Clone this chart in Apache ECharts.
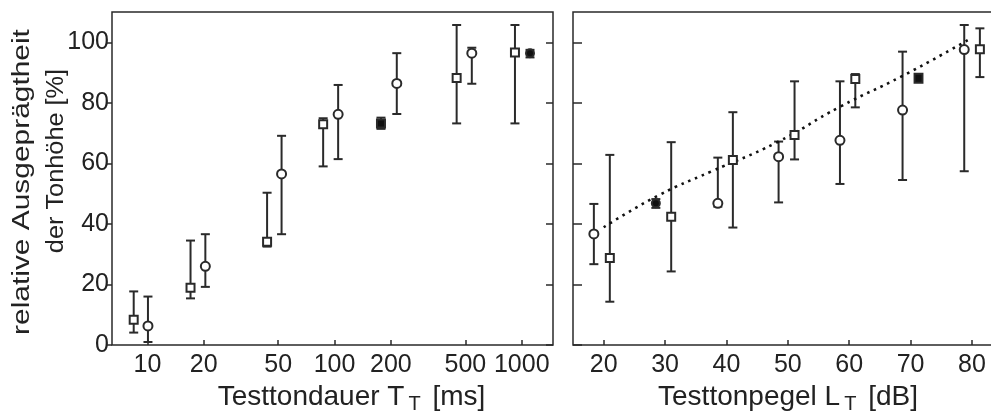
<!DOCTYPE html>
<html>
<head>
<meta charset="utf-8">
<script src="https://cdn.jsdelivr.net/npm/echarts@6/dist/echarts.min.js"></script>
<style>
  html, body { margin: 0; padding: 0; background: #fff; }
  #chart { width: 991px; height: 417px; }
</style>
</head>
<body>
<div id="chart"></div>
<script>
// --- left panel: Testtondauer (log) ---
const durTicks = [10, 20, 50, 100, 200, 500, 1000];
const durSqX  = [8.45, 17.0, 43.6, 86.9, 449, 920];
const durSqY  = [8.3, 18.9, 34.1, 72.9, 88.2, 96.6];
const durSqLo = [4.1, 15.4, 32.5, 59.0, 73.2, 73.2];
const durSqHi = [17.7, 34.5, 50.3, 74.9, 105.7, 105.7];
const durCiX  = [10.07, 20.4, 52.1, 104.5, 215, 541];
const durCiY  = [6.3, 26.0, 56.5, 76.2, 86.4, 96.4];
const durCiLo = [1.0, 19.2, 36.6, 61.4, 76.3, 86.3];
const durCiHi = [16.0, 36.6, 69.1, 85.9, 96.4, 98.2];
const durFilledSq = [177, 73.2, 71.4, 75.1];   // x, y, lo, hi
const durFilledCi = [1107, 96.4, 95.0, 97.5];

// --- right panel: Testtonpegel ---
const lvlTicks = [20, 30, 40, 50, 60, 70, 80];
const lvlCiX  = [18.4, 38.6, 48.5, 58.5, 68.7, 78.75];
const lvlCiY  = [36.7, 46.8, 62.2, 67.6, 77.6, 97.6];
const lvlCiLo = [26.7, 45.7, 47.1, 53.2, 54.5, 57.4];
const lvlCiHi = [46.6, 61.9, 67.2, 87.1, 96.9, 105.7];
const lvlSqX  = [21.0, 31.0, 41.05, 51.1, 61.0, 81.3];
const lvlSqY  = [28.7, 42.4, 61.1, 69.4, 87.9, 97.7];
const lvlSqLo = [14.3, 24.3, 38.8, 61.3, 78.5, 88.5];
const lvlSqHi = [62.8, 67.0, 76.9, 87.1, 89.5, 104.6];
const lvlFilledCi = [28.5, 46.8, 45.3, 48.2];
const lvlFilledSq = [71.3, 88.1, 87.0, 89.2];
const fitX = [20, 29, 37.5, 48.1, 58.5, 68.7, 79.6];
const fitY = [38.9, 49.5, 57.3, 66.8, 78.7, 88.9, 101];

const yTicks = [0, 20, 40, 60, 80, 100];

const ink = '#2a2a2a';
const font = 'Liberation Sans, Arial, sans-serif';

const chart = echarts.init(document.getElementById('chart'));

function pairs(xs, ys) { return xs.map((x, i) => [x, ys[i]]); }

function errorBars(xs, lo, hi, gi) {
    return {
        type: 'custom', xAxisIndex: gi, yAxisIndex: gi * 2, z: 2, silent: true,
        data: xs.map((x, i) => [x, lo[i], hi[i]]),
        renderItem: (params, api) => {
            const top = api.coord([api.value(0), api.value(2)]);
            const bot = api.coord([api.value(0), api.value(1)]);
            const w = 4.5;
            const st = { stroke: ink, lineWidth: 2 };
            return {
                type: 'group', children: [
                    { type: 'line', shape: { x1: top[0], y1: top[1], x2: bot[0], y2: bot[1] }, style: st },
                    { type: 'line', shape: { x1: top[0] - w, y1: top[1], x2: top[0] + w, y2: top[1] }, style: st },
                    { type: 'line', shape: { x1: bot[0] - w, y1: bot[1], x2: bot[0] + w, y2: bot[1] }, style: st }
                ]
            };
        }
    };
}

function marks(data, symbol, size, fill, gi) {
    return {
        type: 'scatter', xAxisIndex: gi, yAxisIndex: gi * 2, z: 5, silent: true,
        symbol: symbol, symbolSize: size, data: data,
        itemStyle: { color: fill, borderColor: ink, borderWidth: 2, opacity: 1 }
    };
}

function yAxes(gi, labels) {
    return [
        {
            type: 'value', gridIndex: gi, min: 0, max: 110, position: 'left',
            axisLine: { show: false }, splitLine: { show: false },
            axisTick: { show: true, inside: !labels, length: labels ? 6 : 9, customValues: yTicks, lineStyle: { color: ink, width: 1.5 } },
            axisLabel: { show: labels, customValues: yTicks, fontSize: 25, color: '#222', fontFamily: font, margin: 3 }
        },
        {
            type: 'value', gridIndex: gi, min: 0, max: 110, position: 'right',
            axisLine: { show: false }, splitLine: { show: false },
            axisTick: { show: gi === 0, inside: true, length: 7, customValues: yTicks, lineStyle: { color: ink, width: 1.5 } },
            axisLabel: { show: false }
        }
    ];
}

const nameRich = {
    a: { fontSize: 28, color: '#222', fontFamily: font },
    s: { fontSize: 20, color: '#222', fontFamily: font, padding: [16, 4, 0, 4] }
};

chart.setOption({
    animation: false,
    grid: [
        { left: 112, top: 12, right: 438, bottom: 72, show: true, borderColor: ink, borderWidth: 1.5, outerBoundsMode: 'none', containLabel: false },
        { left: 573, top: 12, right: -3, bottom: 72, show: true, borderColor: ink, borderWidth: 1.5, outerBoundsMode: 'none', containLabel: false }
    ],
    xAxis: [
        {
            type: 'log', gridIndex: 0, min: 6.47, max: 1469,
            axisLine: { show: false }, splitLine: { show: false }, minorTick: { show: false },
            axisTick: { show: true, inside: true, length: 5, customValues: durTicks, lineStyle: { color: ink, width: 1.5 } },
            axisLabel: { customValues: durTicks, fontSize: 25, color: '#222', fontFamily: font, margin: 8, formatter: v => String(v) },
            name: '{a|Testtondauer T}{s|T}{a| [ms]}', nameLocation: 'middle', nameGap: 32,
            nameTextStyle: { rich: nameRich, padding: [0, 0, 0, 38] }
        },
        {
            type: 'value', gridIndex: 1, min: 15, max: 83.6,
            axisLine: { show: false }, splitLine: { show: false },
            axisTick: { show: true, inside: true, length: 5, customValues: lvlTicks, lineStyle: { color: ink, width: 1.5 } },
            axisLabel: { customValues: lvlTicks, fontSize: 25, color: '#222', fontFamily: font, margin: 8 },
            name: '{a|Testtonpegel L}{s|T}{a| [dB]}', nameLocation: 'middle', nameGap: 32,
            nameTextStyle: { rich: nameRich, padding: [0, 0, 0, 9] }
        }
    ],
    yAxis: [].concat(yAxes(0, true), yAxes(1, false)),
    graphic: [
        {
            type: 'text', x: 23, y: 182, rotation: Math.PI / 2, scaleX: 1.3,
            style: { text: 'relative Ausgeprägtheit', font: '23px ' + font, fill: '#222', align: 'center', verticalAlign: 'middle' }
        },
        {
            type: 'text', x: 57, y: 161, rotation: Math.PI / 2, scaleX: 1.1,
            style: { text: 'der Tonhöhe [%]', font: '23px ' + font, fill: '#222', align: 'center', verticalAlign: 'middle' }
        }
    ],
    series: [
        errorBars(durSqX, durSqLo, durSqHi, 0),
        errorBars(durCiX, durCiLo, durCiHi, 0),
        errorBars([durFilledSq[0]], [durFilledSq[2]], [durFilledSq[3]], 0),
        errorBars([durFilledCi[0]], [durFilledCi[2]], [durFilledCi[3]], 0),
        marks(pairs(durSqX, durSqY), 'rect', 8, '#fff', 0),
        marks(pairs(durCiX, durCiY), 'circle', 9, '#fff', 0),
        marks([[durFilledSq[0], durFilledSq[1]]], 'rect', [8, 8], '#111', 0),
        marks([[durFilledCi[0], durFilledCi[1]]], 'circle', 8, '#111', 0),

        {
            type: 'line', xAxisIndex: 1, yAxisIndex: 2, z: 3, silent: true, symbol: 'none', smooth: true,
            data: pairs(fitX, fitY),
            lineStyle: { color: '#111', width: 2.6, type: [2.6, 4.8], cap: 'butt' }
        },
        errorBars(lvlCiX, lvlCiLo, lvlCiHi, 1),
        errorBars(lvlSqX, lvlSqLo, lvlSqHi, 1),
        errorBars([lvlFilledCi[0]], [lvlFilledCi[2]], [lvlFilledCi[3]], 1),
        errorBars([lvlFilledSq[0]], [lvlFilledSq[2]], [lvlFilledSq[3]], 1),
        marks(pairs(lvlCiX, lvlCiY), 'circle', 9, '#fff', 1),
        marks(pairs(lvlSqX, lvlSqY), 'rect', 8, '#fff', 1),
        marks([[lvlFilledCi[0], lvlFilledCi[1]]], 'circle', 8, '#111', 1),
        marks([[lvlFilledSq[0], lvlFilledSq[1]]], 'rect', [8, 9], '#111', 1)
    ]
});
</script>
</body>
</html>
